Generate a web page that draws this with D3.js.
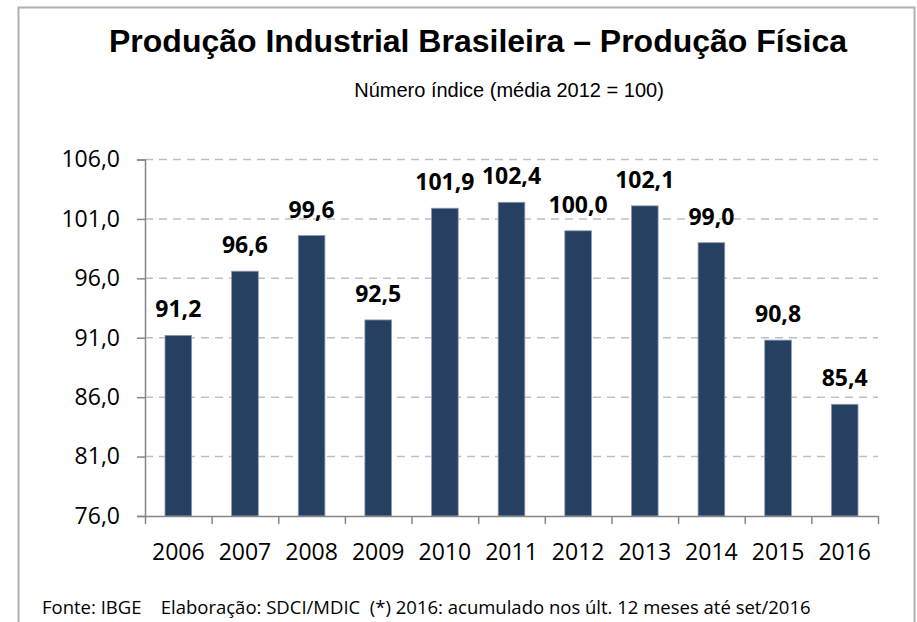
<!DOCTYPE html>
<html>
<head>
<meta charset="utf-8">
<script src="https://cdn.jsdelivr.net/npm/d3@7"></script>
<style>
  body { margin: 0; background: #fff; }
  svg { display: block; }
</style>
</head>
<body>
<svg width="917" height="622"></svg>
<script>
var width = 917,
  height = 622,
  margin = { top: 159.5, right: 39, bottom: 106, left: 145 };

// dados
var anos = ["2006", "2007", "2008", "2009", "2010", "2011", "2012", "2013", "2014", "2015", "2016"];
var valores = [91.2, 96.6, 99.6, 92.5, 101.9, 102.4, 100.0, 102.1, 99.0, 90.8, 85.4];
var yTicks = [76, 81, 86, 91, 96, 101, 106];

var titulo = "Produção Industrial Brasileira – Produção Física";
var subtitulo = "Número índice (média 2012 = 100)";
var rodape = "Fonte: IBGE    Elaboração: SDCI/MDIC  (*) 2016: acumulado nos últ. 12 meses até set/2016";

var fmt = function(v) { return d3.format(".1f")(v).replace(".", ","); };

const svg = d3.select("svg");

// moldura
svg.append("rect")
  .attr("x", 18.5)
  .attr("y", 7.5)
  .attr("width", 896)
  .attr("height", 640)
  .attr("fill", "none")
  .attr("stroke", "#b0b0b0")
  .attr("stroke-width", 2);

svg.append("text")
  .attr("x", 478)
  .attr("y", 52)
  .attr("text-anchor", "middle")
  .style("font-family", "'Liberation Sans', Arial, sans-serif")
  .style("font-weight", "bold")
  .style("font-size", "32px")
  .text(titulo);

svg.append("text")
  .attr("x", 509)
  .attr("y", 97)
  .attr("text-anchor", "middle")
  .style("font-family", "'Liberation Sans', Arial, sans-serif")
  .style("font-size", "20px")
  .text(subtitulo);

var x = d3.scaleBand()
  .domain(anos)
  .range([margin.left, width - margin.right])
  .paddingInner(0.6)
  .paddingOuter(0.3);

var xb = d3.scaleLinear()
  .domain([0, anos.length])
  .range([margin.left, width - margin.right]);

var y = d3.scaleLinear()
  .domain([76, 106])
  .range([height - margin.bottom, margin.top]);

// grade
svg.append("g")
  .selectAll("line")
  .data(yTicks.slice(1))
  .join("line")
  .attr("x1", margin.left)
  .attr("x2", width - margin.right)
  .attr("y1", (d) => y(d))
  .attr("y2", (d) => y(d))
  .style("stroke", "#bfbfbf")
  .style("stroke-width", 1.5)
  .style("stroke-dasharray", "8,6");

// barras
svg.append("g")
  .selectAll("rect")
  .data(valores)
  .join("rect")
  .attr("x", (d, i) => x(anos[i]))
  .attr("y", (d) => y(d))
  .attr("width", x.bandwidth())
  .attr("height", (d) => y(76) - y(d))
  .attr("fill", "#264061")
  .attr("stroke", "#8d9bb0")
  .attr("stroke-width", 0.8);

// rótulos
svg.append("g")
  .selectAll("text")
  .data(valores)
  .join("text")
  .attr("x", (d, i) => x(anos[i]) + x.bandwidth() / 2)
  .attr("y", (d) => y(d) - 18)
  .attr("text-anchor", "middle")
  .style("font-family", "'Open Sans', sans-serif")
  .style("font-weight", "bold")
  .style("font-size", "23px")
  .text((d) => fmt(d));

// eixo y
var yAxis = svg.append("g")
  .attr("transform", "translate(" + margin.left + ",0)")
  .call(d3.axisLeft(y).tickValues(yTicks).tickFormat(fmt).tickSize(8).tickPadding(17));
yAxis.select(".domain").attr("stroke", "#868686").attr("stroke-width", 1.5);
yAxis.selectAll(".tick line").attr("stroke", "#868686").attr("stroke-width", 1.5);
yAxis.selectAll("text")
  .style("font-family", "'Open Sans', sans-serif")
  .style("font-size", "23px")
  .attr("fill", "#000");

// eixo x
var xAxis = svg.append("g")
  .attr("transform", "translate(0," + y(76) + ")")
  .call(d3.axisBottom(xb).ticks(anos.length).tickFormat("").tickSize(8).tickSizeOuter(0));
xAxis.select(".domain").attr("stroke", "#868686").attr("stroke-width", 1.5);
xAxis.selectAll(".tick line").attr("stroke", "#868686").attr("stroke-width", 1.5);

svg.append("g")
  .selectAll("text")
  .data(anos)
  .join("text")
  .attr("x", (d) => x(d) + x.bandwidth() / 2)
  .attr("y", 560)
  .attr("text-anchor", "middle")
  .style("font-family", "'Open Sans', sans-serif")
  .style("font-size", "23px")
  .text((d) => d);

svg.append("text")
  .attr("x", 42)
  .attr("y", 614)
  .attr("xml:space", "preserve")
  .style("white-space", "pre")
  .style("font-family", "'Open Sans', sans-serif")
  .style("font-size", "18.5px")
  .text(rodape);
</script>
</body>
</html>
